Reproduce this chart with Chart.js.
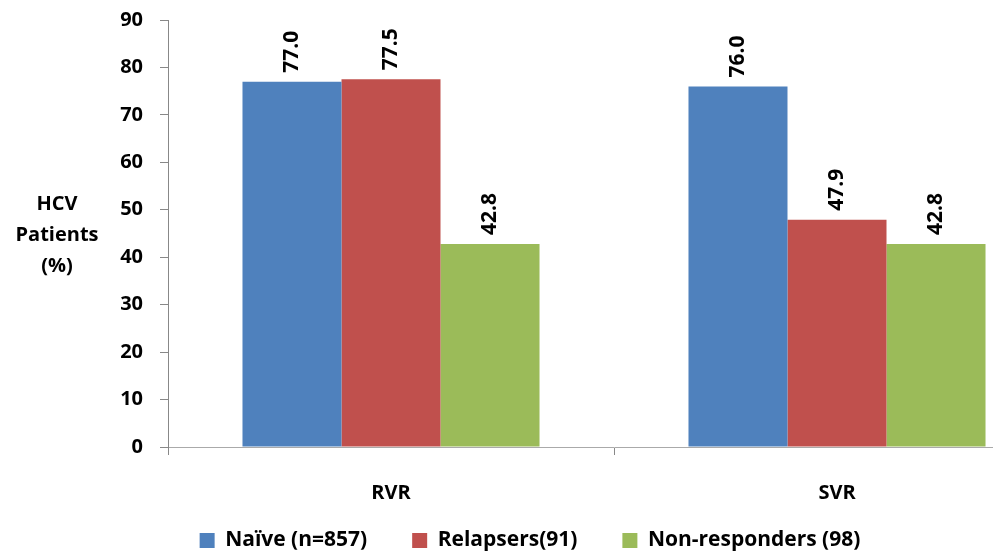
<!DOCTYPE html>
<html>
<head>
<meta charset="utf-8">
<script src="https://cdn.jsdelivr.net/npm/chart.js@4.4.0/dist/chart.umd.min.js"></script>
<style>
  html, body { margin: 0; padding: 0; background: #fff; overflow: hidden; }
  #wrap { width: 1074px; height: 556px; position: relative; }
</style>
</head>
<body>
<div id="wrap"><canvas id="hcvChart"></canvas></div>
<script>
const categories = ['RVR', 'SVR'];
const naive = [77.0, 76.0];
const relapsers = [77.5, 47.9];
const nonResponders = [42.8, 42.8];
const seriesNames = ['Naïve (n=857)', 'Relapsers(91)', 'Non-responders (98)'];
const yTitleLines = ['HCV', 'Patients', '(%)'];

const FONT = '"Open Sans", Lato, sans-serif';
const LEGEND_PAD = 45;

// value labels written upright above each bar
const valueLabels = {
  id: 'valueLabels',
  afterDatasetsDraw(chart) {
    const ctx = chart.ctx;
    ctx.save();
    ctx.font = 'bold 21px ' + FONT;
    ctx.fillStyle = '#000';
    ctx.textAlign = 'left';
    ctx.textBaseline = 'middle';
    chart.data.datasets.forEach((ds, i) => {
      chart.getDatasetMeta(i).data.forEach((bar, j) => {
        ctx.save();
        ctx.translate(bar.x, bar.y - 9);
        ctx.rotate(-Math.PI / 2);
        ctx.fillText(ds.data[j].toFixed(1), 0, 0);
        ctx.restore();
      });
    });
    ctx.restore();
  }
};

// horizontal y axis title on the left
const yTitle = {
  id: 'yTitle',
  afterDraw(chart) {
    const ctx = chart.ctx;
    ctx.save();
    ctx.font = 'bold 20px ' + FONT;
    ctx.fillStyle = '#000';
    ctx.textAlign = 'center';
    ctx.textBaseline = 'middle';
    yTitleLines.forEach((line, i) => {
      ctx.fillText(line, 57, 204 + i * 31);
    });
    ctx.restore();
  }
};

// keep wide gaps between legend items but a short legend box
const legendFit = {
  id: 'legendFit',
  afterInit(chart) {
    const legend = chart.legend;
    const fit = legend.fit;
    legend.fit = function () {
      fit.call(this);
      this.height = 51;
    };
  },
  afterLayout(chart) {
    chart.legend.top = 530 - LEGEND_PAD;
    chart.legend.bottom = 556;
    chart.legend.height = 556 - chart.legend.top;
  }
};

new Chart(document.getElementById('hcvChart'), {
  type: 'bar',
  data: {
    labels: categories,
    datasets: [
      { label: seriesNames[0], data: naive, backgroundColor: '#4F81BD' },
      { label: seriesNames[1], data: relapsers, backgroundColor: '#C0504D' },
      { label: seriesNames[2], data: nonResponders, backgroundColor: '#9BBB59' },
    ],
  },
  options: {
    responsive: true,
    maintainAspectRatio: false,
    animation: false,
    datasets: {
      bar: { categoryPercentage: 0.666, barPercentage: 1.0 }
    },
    layout: { padding: { top: 0, right: 14, bottom: 0, left: 0 } },
    plugins: {
      tooltip: { enabled: false },
      legend: {
        position: 'bottom',
        labels: {
          font: { family: FONT, size: 21, weight: 'bold' },
          color: '#000',
          boxWidth: 15,
          boxHeight: 15,
          padding: LEGEND_PAD,
        },
      },
    },
    scales: {
      x: {
        afterFit(scale) { scale.height = 58; },
        grid: { offset: true, drawOnChartArea: false, tickLength: 8, color: '#888' },
        border: { color: '#aaa' },
        ticks: { font: { family: FONT, size: 20, weight: 'bold' }, color: '#000', padding: 26 },
      },
      y: {
        min: 0,
        max: 90,
        afterFit(scale) {
          scale.width = 168;
          scale.paddingTop = 20;
          scale.paddingBottom = 0;
        },
        grid: { drawOnChartArea: false, tickLength: 8, color: '#888' },
        border: { color: '#888' },
        ticks: { stepSize: 10, font: { family: FONT, size: 20, weight: 'bold' }, color: '#000', padding: 17 },
      },
    },
  },
  plugins: [valueLabels, yTitle, legendFit],
});
</script>
</body>
</html>
